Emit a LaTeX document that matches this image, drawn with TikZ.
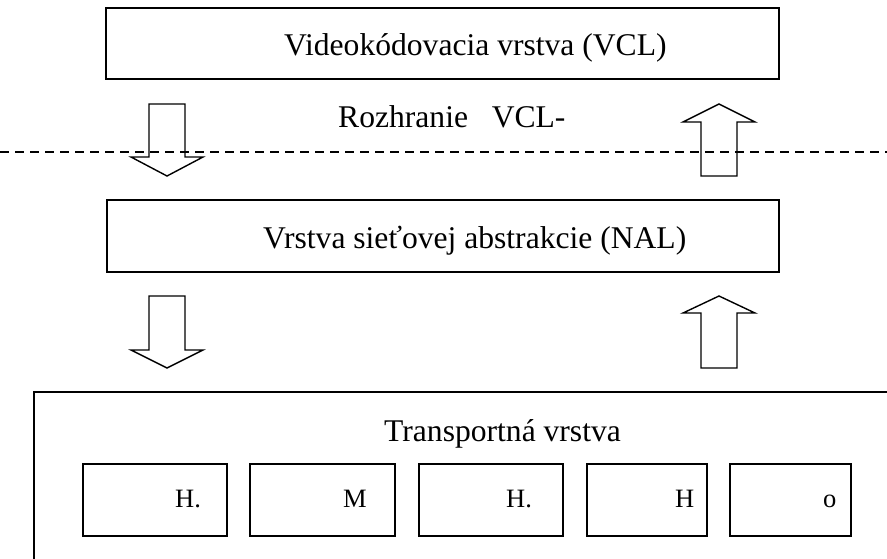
\documentclass[tikz,border=0pt]{standalone}
\usepackage{fontspec}
\setmainfont{Liberation Serif}
\begin{document}
\begin{tikzpicture}[x=1pt,y=-1pt,
  layerbox/.style={draw,line width=1.4pt,inner sep=0pt,outer sep=0pt},
  bigtext/.style={anchor=base west,inner sep=0pt,font=\fontsize{31.6}{36}\selectfont},
  smalltext/.style={anchor=base west,inner sep=0pt,font=\fontsize{26.5}{30}\selectfont},
  blockarrow/.style={draw,line width=1.4pt,line join=miter},
  sep/.style={draw,line width=1.3pt,dash pattern=on 9pt off 6pt}]
\useasboundingbox (0,0) rectangle (887,558);
\fill[white] (0,0) rectangle (887,558);
% layers
\node[layerbox,minimum width=673pt,minimum height=71pt] (vcl) at (442.5,43.5) {};
\node[bigtext] (vcltext) at (284,55) {Videokódovacia vrstva (VCL)};
\node[layerbox,minimum width=672pt,minimum height=72pt] (nal) at (443,236) {};
\node[bigtext] (naltext) at (263,248) {Vrstva sieťovej abstrakcie (NAL)};
\node[bigtext] (iface) at (338,127) {Rozhranie\ \ \ VCL-};
% interface line
\coordinate (dl) at (0,152);
\coordinate (dr) at (887,152);
\draw[sep] (dl) -- (dr);
% block arrows
\draw[blockarrow] (149,104) -- (185,104) -- (185,157) -- (203,157) -- (167,176) -- (131,157) -- (149,157) -- cycle;
\draw[blockarrow] (701,176) -- (737,176) -- (737,122) -- (755,122) -- (719,104) -- (683,122) -- (701,122) -- cycle;
\draw[blockarrow] (149,296) -- (185,296) -- (185,350) -- (203,350) -- (167,368) -- (131,350) -- (149,350) -- cycle;
\draw[blockarrow] (701,368) -- (737,368) -- (737,313) -- (755,313) -- (719,296) -- (683,313) -- (701,313) -- cycle;
% transport layer
\draw[line width=1.4pt] (34,392) rectangle (900,575);
\node[bigtext] (tr) at (384,441) {Transportná vrstva};
\node[layerbox,minimum width=144pt,minimum height=72pt] (b1) at (155,500) {};
\node[layerbox,minimum width=145pt,minimum height=72pt] (b2) at (322.5,500) {};
\node[layerbox,minimum width=144pt,minimum height=72pt] (b3) at (491,500) {};
\node[layerbox,minimum width=120pt,minimum height=72pt] (b4) at (647,500) {};
\node[layerbox,minimum width=121pt,minimum height=72pt] (b5) at (790.5,500) {};
\node[smalltext] (t1) at (175,507) {H.};
\node[smalltext] (t2) at (343,507) {M};
\node[smalltext] (t3) at (506,507) {H.};
\node[smalltext] (t4) at (675,507) {H};
\node[smalltext] (t5) at (823,507) {o};
\end{tikzpicture}
\end{document}
